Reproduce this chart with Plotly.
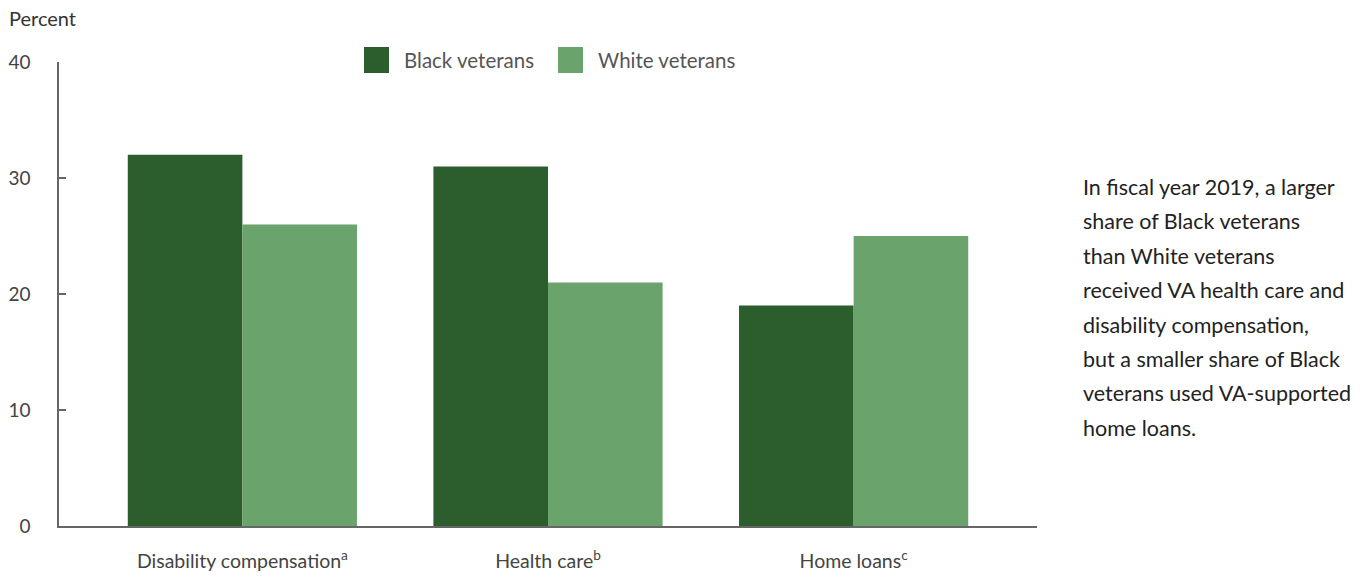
import plotly.graph_objects as go

categories = ["Disability compensation<sup>a</sup>", "Health care<sup>b</sup>", "Home loans<sup>c</sup>"]
black_vals = [32, 31, 19]
white_vals = [26, 21, 25]
series_names = ["Black veterans", "White veterans"]
y_ticks = [0, 10, 20, 30, 40]
note_lines = [
    "In fiscal year 2019, a larger",
    "share of Black veterans",
    "than White veterans",
    "received VA health care and",
    "disability compensation,",
    "but a smaller share of Black",
    "veterans used VA-supported",
    "home loans.",
]

DARK = "#2b5e2c"
LIGHT = "#6aa36b"
FONT = "Lato, Roboto, sans-serif"
TXT = "#333333"

# page body margin offsets the figure by ~8px
OX, OY = 8, 8
W, H = 1366 - OX, 576 - OY
PL, PT, PR, PB = 59, 62, 1037, 526  # plot area in screen pixels
L, T = PL - OX, PT - OY
R, B = W - (PR - OX), H - (PB - OY)
pw, ph = W - L - R, H - T - B

def px(x):
    return (x - OX - L) / pw

def py(y):
    return (H - B - (y - OY)) / ph

fig = go.Figure()
fig.add_trace(go.Bar(x=list(range(3)), y=black_vals, name=series_names[0], marker_color=DARK, marker_line_width=0))
fig.add_trace(go.Bar(x=list(range(3)), y=white_vals, name=series_names[1], marker_color=LIGHT, marker_line_width=0))

shapes = []
annotations = []
# custom legend
for i, (name, col, sx, tx) in enumerate([(series_names[0], DARK, 364, 402), (series_names[1], LIGHT, 558, 596)]):
    shapes.append(dict(type="rect", xref="paper", yref="paper", x0=px(sx), x1=px(sx + 25),
                       y0=py(73), y1=py(47), fillcolor=col, line_width=0))
    annotations.append(dict(xref="paper", yref="paper", x=px(tx), y=py(60), text=name, showarrow=False,
                            xanchor="left", yanchor="middle", font=dict(family=FONT, size=20.5, color="#555555")))

annotations.append(dict(xref="paper", yref="paper", x=px(42), y=py(18), text="Percent", showarrow=False,
                        xanchor="center", yanchor="middle", font=dict(family=FONT, size=20, color=TXT)))

for i, line in enumerate(note_lines):
    annotations.append(dict(xref="paper", yref="paper", x=px(1081), y=py(187 + i * 34.4), text=line,
                            showarrow=False, xanchor="left", yanchor="middle",
                            font=dict(family=FONT, size=21.5, color="#222222")))

fig.update_layout(
    width=W, height=H,
    margin=dict(l=L, r=R, t=T, b=B, pad=0, autoexpand=False),
    plot_bgcolor="white", paper_bgcolor="white",
    barmode="group", bargap=0.25, bargroupgap=0,
    showlegend=False,
    shapes=shapes, annotations=annotations,
    font=dict(family=FONT, color=TXT),
)
fig.update_xaxes(
    range=[-0.6, 2.6], tickvals=list(range(3)), ticktext=categories, automargin=False,
    showline=True, linecolor="#666666", linewidth=1.5, ticks="", showgrid=False, zeroline=False,
    tickfont=dict(family=FONT, size=19.5, color="#444444"), ticklabelstandoff=17,
)
fig.update_yaxes(
    range=[0, 40], tickvals=y_ticks, automargin=False, showline=True, linecolor="#666666", linewidth=1.5,
    ticks="inside", ticklen=7, tickcolor="#666666", tickwidth=1.5, showgrid=False, zeroline=False,
    tickfont=dict(family=FONT, size=19, color="#444444"), ticklabelstandoff=23,
)

fig.write_html("out.html")
